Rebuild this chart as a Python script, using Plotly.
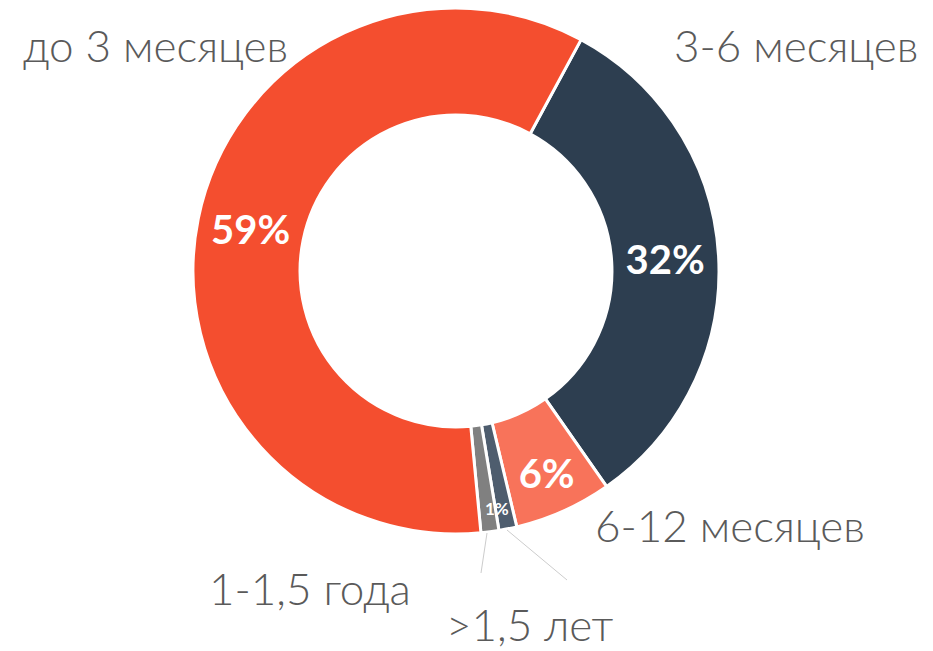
import plotly.graph_objects as go

labels = ["3-6 месяцев", "6-12 месяцев", ">1,5 лет", "1-1,5 года", "до 3 месяцев"]
values = [32.4, 6.0, 1.1, 1.1, 59.4]
colors = ["#2D3E50", "#F8735A", "#4E5D6E", "#808080", "#F44E2F"]
pct_text = ["%{percent:.0%}", "%{percent:.0%}", "", "", "%{percent:.0%}"]
small_pct = "1%"

fig = go.Figure(go.Pie(
    labels=labels,
    values=values,
    sort=False,
    direction="clockwise",
    rotation=28.4,
    hole=0.593,
    marker=dict(colors=colors, line=dict(color="white", width=3)),
    texttemplate=pct_text,
    textposition="inside",
    insidetextorientation="horizontal",
    textfont=dict(family="Lato", size=40, color="white", weight="bold"),
    domain=dict(x=[(456 - 263) / 933, (456 + 263) / 933], y=[1 - 534 / 651, 1 - 8 / 651]),
    showlegend=False,
    hoverinfo="label+percent",
))

label_font = dict(family="Lato", size=44, color="#5A5A5A", weight=300)
ann = [
    ("до 3 месяцев", 155, 45),
    ("3-6 месяцев", 796, 45),
    ("6-12 месяцев", 730, 525),
    ("1-1,5 года", 310, 588),
]
for t, x, y in ann:
    fig.add_annotation(text=t, x=x / 933, y=1 - y / 651, xref="paper", yref="paper",
                       showarrow=False, xanchor="center", yanchor="middle", font=label_font)

fig.add_annotation(text=">1,5 лет", x=530 / 933, y=0, xref="paper", yref="paper",
                   showarrow=False, xanchor="center", yanchor="bottom", borderpad=0,
                   font=label_font)

fig.add_annotation(text=small_pct, x=497 / 933, y=1 - 508 / 651, xref="paper", yref="paper",
                   showarrow=False, xanchor="center", yanchor="middle",
                   font=dict(family="Lato", size=17, color="white", weight="bold"))

for x0, y0, x1, y1 in [(487, 533, 481, 573), (507, 530, 567, 580)]:
    fig.add_shape(type="line", xref="paper", yref="paper",
                  x0=x0 / 933, y0=1 - y0 / 651, x1=x1 / 933, y1=1 - y1 / 651,
                  line=dict(color="#CCCCCC", width=1))

fig.update_layout(width=933, height=651, margin=dict(l=0, r=0, t=0, b=0),
                  paper_bgcolor="white", plot_bgcolor="white")
fig.write_html("out.html", config={"displayModeBar": False},
               post_script="document.body.style.margin='0';")
